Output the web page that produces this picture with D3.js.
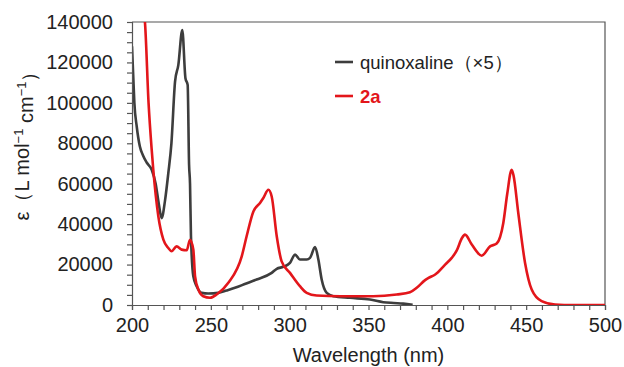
<!DOCTYPE html>
<html>
<head>
<meta charset="utf-8">
<script src="https://cdn.jsdelivr.net/npm/d3@7"></script>
<style>
  body { margin: 0; background: #fff; }
  text { font-family: "Liberation Sans", Arial, sans-serif; }
</style>
</head>
<body>
<div id="chart"></div>
<script>
var svgWidth = 624;
var svgHeight = 367;

var margin = { top: 22, right: 19, bottom: 62, left: 132 };
var width = svgWidth - margin.left - margin.right;
var height = svgHeight - margin.top - margin.bottom;

// quinoxaline (x5)
var quinWl = [200, 200.8, 201.5, 203, 205, 207, 209.3, 212.5, 215, 217, 218.8, 221, 223, 225, 227.3, 229.4, 231.9,
  233.9, 235.3, 236.2, 236.8, 237.4, 238.9, 241, 244.2, 248.4, 254.7, 260, 265.3, 272, 279, 288.6, 291.8, 296,
  300.2, 303.4, 306.5, 310.8, 312.9, 316.1, 318.2, 320.3, 323.5, 327.7, 338.3, 351, 359.4, 366, 372, 378];
var quinEps = [128000, 113000, 100000, 88300, 78400, 74000, 70500, 66900, 60000, 50000, 43000, 52000, 65000, 80000, 110500, 118800, 136000,
  112200, 108900, 69400, 60000, 34000, 14200, 9300, 6000, 5700, 6000, 7200, 8500, 10500, 12600, 15900, 17900, 18900,
  20800, 24900, 22500, 22500, 23300, 28700, 22500, 12600, 6000, 4350, 3550, 2700, 1400, 1000, 700, 100];

// 2a
var compWl = [207.5, 208.2, 210.5, 212.5, 213.5, 216.7, 219.9, 223, 225.1, 228.3, 231.5, 234.7, 236.8, 238.9, 240,
  242.1, 245.2, 249.5, 253.7, 261.1, 269.6, 272.7, 277, 281.2, 283.3, 286.5, 288.6, 291.8, 294.9, 300.2, 306.5,
  310.8, 317.1, 332.3, 353, 367.9, 376.3, 380.6, 385.9, 388.1, 392.3, 398.6, 402.8, 406, 409.2, 411.2, 415.5,
  421.8, 427.1, 431.3, 435.5, 438, 440.8, 442, 445, 449.3, 453.5, 459.8, 468.3, 480, 500];
var compEps = [145000, 140000, 100000, 76700, 66900, 43900, 32300, 28200, 26600, 29000, 27400, 27100, 32300, 27400, 14200,
  7650, 4350, 3550, 5200, 11000, 24100, 34000, 46300, 50500, 52900, 57000, 53700, 34000, 21600, 15900, 9300,
  6000, 4700, 4350, 4350, 5200, 6300, 8500, 12300, 13400, 15100, 20000, 23300, 27000, 33000, 34800, 29900,
  24400, 29000, 30400, 40600, 55000, 66900, 64000, 45500, 20800, 7650, 1900, 250, 0, 0];

var xTicks = [200, 250, 300, 350, 400, 450, 500];
var yTicks = [0, 20000, 40000, 60000, 80000, 100000, 120000, 140000];

var svg = d3.select("#chart")
  .append("svg")
  .attr("width", svgWidth)
  .attr("height", svgHeight);

var chartGroup = svg.append("g")
  .attr("transform", `translate(${margin.left}, ${margin.top})`);

var x = d3.scaleLinear().domain([200, 500]).range([0, width]);
var y = d3.scaleLinear().domain([0, 140000]).range([height, 0]);

// frame (top and right)
chartGroup.append("path")
  .attr("d", `M0,0H${width}V${height}`)
  .attr("fill", "none")
  .attr("stroke", "#555")
  .attr("stroke-width", 1.2);

chartGroup.append("clipPath").attr("id", "clip")
  .append("rect").attr("width", width).attr("height", height);

var line = d3.line()
  .x(d => x(d[0]))
  .y(d => y(d[1]))
  .curve(d3.curveMonotoneX);

chartGroup.append("path")
  .datum(quinWl.map((w, i) => [w, quinEps[i]]))
  .attr("clip-path", "url(#clip)")
  .attr("fill", "none")
  .attr("stroke", "#3d3d3d")
  .attr("stroke-width", 2.6)
  .attr("d", line);

chartGroup.append("path")
  .datum(compWl.map((w, i) => [w, compEps[i]]))
  .attr("clip-path", "url(#clip)")
  .attr("fill", "none")
  .attr("stroke", "#e3161b")
  .attr("stroke-width", 2.6)
  .attr("d", line);

// axes
var bottomAxis = d3.axisBottom(x)
  .tickValues(d3.range(200, 501, 10))
  .tickSize(5)
  .tickFormat(d => xTicks.includes(d) ? d : "");

var leftAxis = d3.axisLeft(y)
  .tickValues(d3.range(0, 140001, 5000))
  .tickSize(5)
  .tickFormat(d => yTicks.includes(d) ? d : "");

var xAxis = chartGroup.append("g")
  .attr("transform", `translate(0, ${height})`)
  .call(bottomAxis);

var yAxis = chartGroup.append("g")
  .call(leftAxis);

[xAxis, yAxis].forEach(function(ax) {
  ax.select(".domain").attr("stroke", "#555").attr("stroke-width", 1.2);
  ax.selectAll(".tick line").attr("stroke", "#555").attr("stroke-width", 1.2);
  ax.selectAll(".tick text")
    .attr("fill", "#222")
    .style("font-size", "20px")
    .style("font-family", "'Liberation Sans', Arial, sans-serif");
});
xAxis.selectAll(".tick text").attr("y", 13).attr("dy", "0.71em");
yAxis.selectAll(".tick text").attr("x", -19);

// axis titles
chartGroup.append("text")
  .attr("x", width / 2)
  .attr("y", height + 57)
  .attr("text-anchor", "middle")
  .attr("fill", "#222")
  .style("font-size", "20px")
  .text("Wavelength (nm)");

var yTitle = chartGroup.append("text")
  .attr("transform", `translate(${22 - margin.left}, ${141 - margin.top}) rotate(-90)`)
  .attr("text-anchor", "middle")
  .attr("dy", "0.35em")
  .attr("fill", "#222")
  .style("font-size", "20px");
yTitle.append("tspan").text("ε（L mol");
yTitle.append("tspan").attr("dy", "-0.5em").style("font-size", "13px").text("−1");
yTitle.append("tspan").attr("dy", "0.5em").text(" cm");
yTitle.append("tspan").attr("dy", "-0.5em").style("font-size", "13px").text("−1");
yTitle.append("tspan").attr("dy", "0.5em").text("）");

// legend
var legend = svg.append("g");
legend.append("line")
  .attr("x1", 335).attr("x2", 353).attr("y1", 62).attr("y2", 62)
  .attr("stroke", "#3d3d3d").attr("stroke-width", 2.6);
legend.append("text")
  .attr("x", 360).attr("y", 69)
  .attr("fill", "#222")
  .style("font-size", "18.5px")
  .text("quinoxaline（×5）");
legend.append("line")
  .attr("x1", 335).attr("x2", 353).attr("y1", 96).attr("y2", 96)
  .attr("stroke", "#e3161b").attr("stroke-width", 2.6);
legend.append("text")
  .attr("x", 360).attr("y", 103)
  .attr("fill", "#e3161b")
  .style("font-size", "18.5px")
  .style("font-weight", "bold")
  .text("2a");
</script>
</body>
</html>
